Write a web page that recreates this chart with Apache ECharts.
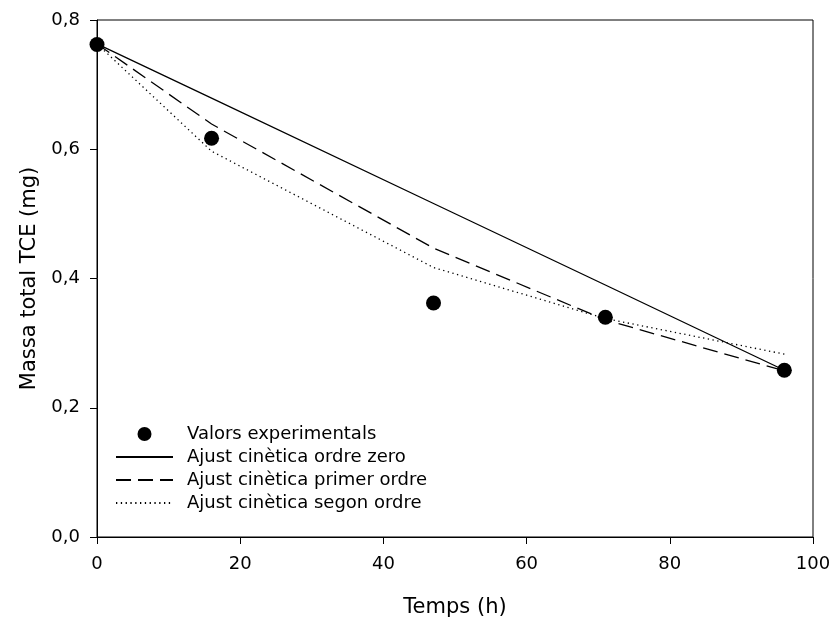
<!DOCTYPE html>
<html><head><meta charset="utf-8">
<script src="https://cdn.jsdelivr.net/npm/echarts@6/dist/echarts.min.js"></script>
<style>html,body{margin:0;padding:0;background:#fff}#c{width:831px;height:622px}</style>
</head><body><div id="c"></div>
<script>
var xExp = [0, 16, 47, 71, 96];
var yExp = [0.762, 0.617, 0.362, 0.340, 0.258];
var xFit = [0, 16, 47, 71, 96];
var yZero = [0.763, 0.679, 0.516, 0.390, 0.258];
var yFirst = [0.763, 0.639, 0.447, 0.336, 0.257];
var ySecond = [0.763, 0.597, 0.417, 0.338, 0.283];
var names = ['Valors experimentals','Ajust cinètica ordre zero','Ajust cinètica primer ordre','Ajust cinètica segon ordre'];
function pairs(xs, ys){return xs.map(function(x,i){return [x, ys[i]];});}
var font = '"DejaVu Sans", Verdana, sans-serif';
var hideSym = {opacity:0, color:'rgba(0,0,0,0)', borderColor:'rgba(0,0,0,0)', borderWidth:0};
var chart = echarts.init(document.getElementById('c'), null, {renderer:'canvas'});
chart.setOption({
  animation:false,
  backgroundColor:'#fff',
  grid:{left:97, right:18, top:20, bottom:85, show:true, borderColor:'#000', borderWidth:1,
        containLabel:false, outerBoundsMode:'none'},
  legend:{
    orient:'vertical', left:110, top:420, itemWidth:57, itemHeight:14, itemGap:5,
    textStyle:{fontFamily:font, fontSize:18, color:'#000', padding:[0,0,0,9]},
    data:[{name:names[0], icon:'circle'},
          {name:names[1], itemStyle:hideSym},
          {name:names[2], itemStyle:hideSym},
          {name:names[3], itemStyle:hideSym}]
  },
  xAxis:{
    type:'value', min:0, max:100, interval:20,
    name:'Temps (h)', nameLocation:'middle', nameGap:60,
    nameTextStyle:{fontFamily:font, fontSize:21, color:'#000'},
    axisLine:{show:true, lineStyle:{color:'#000', width:1}},
    axisTick:{show:true, inside:false, length:7, lineStyle:{color:'#000'}},
    axisLabel:{fontFamily:font, fontSize:18, color:'#000', margin:18},
    splitLine:{show:false}
  },
  yAxis:{
    type:'value', min:0, max:0.8, interval:0.2,
    name:'Massa total TCE (mg)', nameLocation:'middle', nameGap:57,
    nameTextStyle:{fontFamily:font, fontSize:21, color:'#000'},
    axisLine:{show:true, lineStyle:{color:'#000', width:1}},
    axisTick:{show:true, inside:false, length:7, lineStyle:{color:'#000'}},
    axisLabel:{fontFamily:font, fontSize:18, color:'#000', margin:17,
      formatter:function(v){return v.toFixed(1).replace('.', ',');}},
    splitLine:{show:false}
  },
  series:[
    {name:names[0], type:'scatter', data:pairs(xExp,yExp), symbol:'circle', symbolSize:15,
     itemStyle:{color:'#000', opacity:1}, z:5},
    {name:names[1], type:'line', data:pairs(xFit,yZero), showSymbol:false, symbol:'none',
     lineStyle:{color:'#000', width:1.3, type:'solid'}, itemStyle:{color:'#000'}},
    {name:names[2], type:'line', data:pairs(xFit,yFirst), showSymbol:false, symbol:'none',
     lineStyle:{color:'#000', width:1.3, type:[15,7]}, itemStyle:{color:'#000'}},
    {name:names[3], type:'line', data:pairs(xFit,ySecond), showSymbol:false, symbol:'none',
     lineStyle:{color:'#000', width:1.3, type:[1.3,3.5]}, itemStyle:{color:'#000'}}
  ]
});
</script></body></html>
